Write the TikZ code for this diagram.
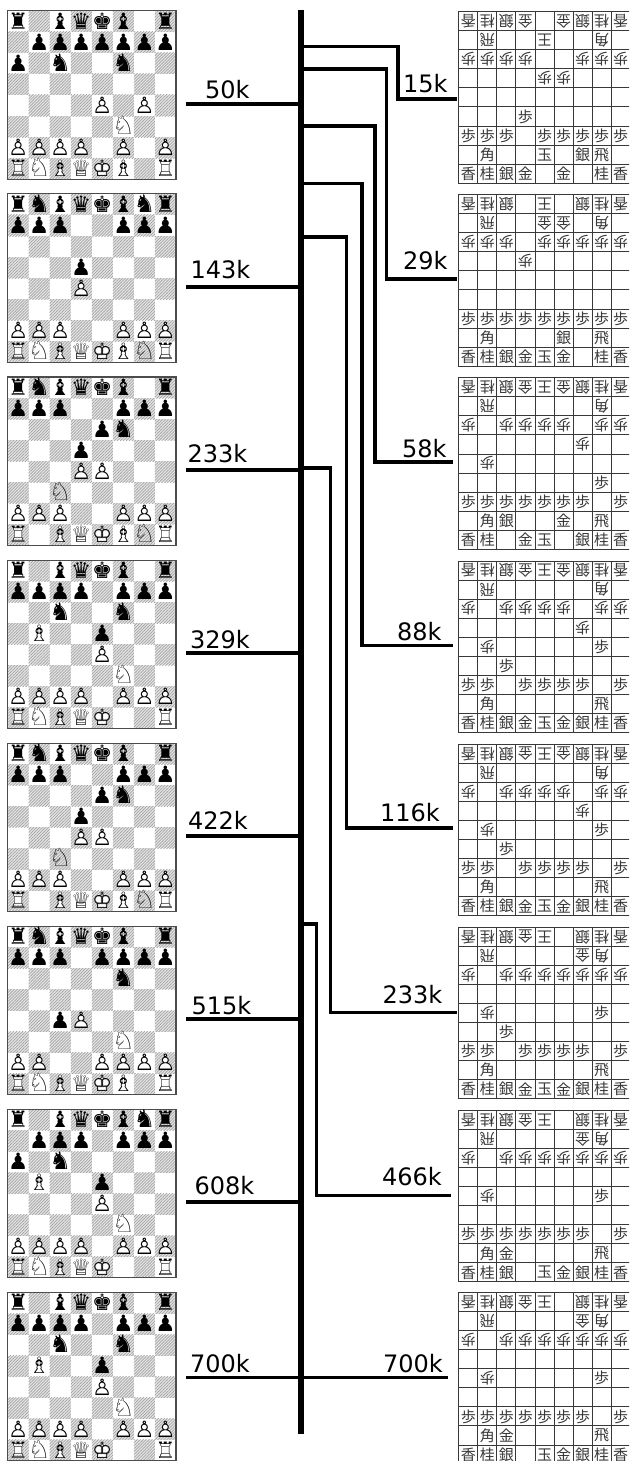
\documentclass[tikz,border=0pt]{standalone}
\usepackage{fontspec}
\usepackage{graphicx}
\setmainfont{DejaVu Sans}
\newfontfamily\djv{DejaVu Sans}
\newfontfamily\cjkf{Noto Sans CJK JP}
\usetikzlibrary{patterns.meta}
\tikzset{
  bar/.style={line width=5.6pt,black},
  wire/.style={line width=3.4pt,black,miter limit=10},
  lbl/.style={anchor=base west,inner sep=0pt,font=\fontsize{24}{24}\selectfont,text=black},
  frame/.style={draw=black!70,line width=1.1pt},
  darksq/.style={fill=black!10,postaction={pattern={Lines[angle=45,distance=2.1pt,line width=0.7pt]},pattern color=black!36}},
  chesspc/.style={anchor=base,inner sep=0pt,font=\djv\fontsize{22.5}{22.5}\selectfont},
  sgrid/.style={draw=black!78,line width=0.95pt,line cap=rect},
  sente/.style={inner sep=0pt,font=\cjkf\fontsize{15}{15}\selectfont,text=black!78},
  gote/.style={sente,rotate=180},
}
\def\cpscale#1#2{\scalebox{#1}{#2}}
\def\cpr{♜}\def\cpn{\cpscale{1.08}{♞}}\def\cpb{♝}\def\cpq{♛}\def\cpk{♚}\def\cpp{♟}
\def\wfill#1#2{\makebox[0pt][l]{\textcolor{white}{#1}}#2}
\def\cpR{\wfill{♜}{♖}}\def\cpN{\cpscale{1.12}{♘}}\def\cpB{\wfill{♝}{♗}}
\def\cpQ{\wfill{♛}{♕}}\def\cpK{\wfill{♚}{♔}}\def\cpP{\wfill{♟}{♙}}
\def\sgl{香}\def\sgn{桂}\def\sgs{銀}\def\sgg{金}\def\sgk{王}\def\sgr{飛}\def\sgb{角}\def\sgp{歩}
\def\sgL{香}\def\sgN{桂}\def\sgS{銀}\def\sgG{金}\def\sgK{玉}\def\sgR{飛}\def\sgB{角}\def\sgP{歩}
\newcount\cxx \newcount\cyy
% chess
\def\cstep{21.05}
\def\chessput#1{\if#1.\else
  \node[chesspc] (c\bid-\the\cyy-\the\cxx) at ({\bx+(\the\cxx+.5)*\cstep},{\by+(\the\cyy+.5)*\cstep+7.8}) {\csname cp#1\endcsname};\fi
  \global\advance\cxx by 1
  \ifnum\cxx=8 \global\cxx=0 \global\advance\cyy by 1 \fi}
\def\chessloop#1{\ifx#1\relax\else\chessput{#1}\expandafter\chessloop\fi}
\def\chessboard#1#2{\def\bid{#1}\def\bx{7.6}\def\by{#2}%
  \foreach \rr in {0,...,7}{\foreach \cc in {0,...,7}{%
    \pgfmathtruncatemacro\odd{mod(\rr+\cc,2)}%
    \ifnum\odd=1 \path[darksq] ({\bx+\cc*\cstep},{\by+\rr*\cstep}) rectangle ++(\cstep,\cstep);\fi}}%
  \draw[frame] (\bx,\by) rectangle ++({8*\cstep},{8*\cstep});%
  \global\cxx=0 \global\cyy=0 \chessloop}
% shogi
\def\sstep{19.05}
\def\shogiput#1{\if#1.\else
  \ifnum`#1>96 \def\sst{gote}\else\def\sst{sente}\fi
  \node[\sst] (s\bid-\the\cyy-\the\cxx) at ({\bx+(\the\cxx+.5)*\sstep},{\by+(\the\cyy+.5)*\sstep}) {\csname sg#1\endcsname};\fi
  \global\advance\cxx by 1
  \ifnum\cxx=9 \global\cxx=0 \global\advance\cyy by 1 \fi}
\def\shogiloop#1{\ifx#1\relax\else\shogiput{#1}\expandafter\shogiloop\fi}
\def\shogiboard#1#2{\def\bid{#1}\def\bx{458.8}\def\by{#2}%
  \foreach \rr in {0,...,9}{\draw[sgrid] (\bx,{\by+\rr*\sstep}) -- ++({9*\sstep},0);}%
  \foreach \cc in {0,...,9}{\draw[sgrid] ({\bx+\cc*\sstep},\by) -- ++(0,{9*\sstep});}%
  \global\cxx=0 \global\cyy=0 \shogiloop}
\begin{document}
\begin{tikzpicture}[x=1pt,y=-1pt]
\clip (0,0) rectangle (629,1461);
\fill[white] (0,0) rectangle (629,1461);
% chess boards
\chessboard{a}{10.8} r.bqkb.r .ppppppp p.n..n.. ........ ....P.P. .....N.. PPPP.P.P RNBQKB.R \relax
\chessboard{b}{193.9} rnbqkbnr ppp..ppp ........ ...p.... ...P.... ........ PPP..PPP RNBQKBNR \relax
\chessboard{c}{377} rnbqkb.r ppp..ppp ....pn.. ...p.... ...PP... ..N..... PPP..PPP R.BQKBNR \relax
\chessboard{d}{560.1} r.bqkb.r pppp.ppp ..n..n.. .B..p... ....P... .....N.. PPPP.PPP RNBQK..R \relax
\chessboard{e}{743.2} rnbqkb.r ppp..ppp ....pn.. ...p.... ...PP... ..N..... PPP..PPP R.BQKBNR \relax
\chessboard{f}{926.3} rnbqkb.r ppp.pppp .....n.. ........ ..pP.... .....N.. PP..PPPP RNBQKB.R \relax
\chessboard{g}{1109.4} r.bqkbnr .ppp.ppp p.n..... .B..p... ....P... .....N.. PPPP.PPP RNBQK..R \relax
\chessboard{h}{1292.5} r.bqkb.r pppp.ppp ..n..n.. .B..p... ....P... .....N.. PPPP.PPP RNBQK..R \relax
% shogi boards
\shogiboard{a}{11.7} lnsg.gsnl .r..k..b. pppp..ppp ....pp... ......... ...P..... PPP.PPPPP .B..K.SR. LNSG.G.NL \relax
\shogiboard{b}{194.7} lns.k.snl .r..gg.b. ppp.ppppp ...p..... ......... ......... PPPPPPPPP .B...S.R. LNSGKG.NL \relax
\shogiboard{c}{377.8} lnsgkgsnl .r.....b. p.pppp.pp ......p.. .p....... .......P. PPPPPPP.P .BS..G.R. LN.GK.SNL \relax
\shogiboard{d}{561} lnsgkgsnl .r.....b. p.pppp.pp ......p.. .p.....P. ..P...... PP.PPPP.P .B.....R. LNSGKGSNL \relax
\shogiboard{e}{744.2} lnsgkgsnl .r.....b. p.pppp.pp ......p.. .p.....P. ..P...... PP.PPPP.P .B.....R. LNSGKGSNL \relax
\shogiboard{f}{927.3} lnsgk.snl .r....gb. p.ppppppp ......... .p.....P. ..P...... PP.PPPP.P .B.....R. LNSGKGSNL \relax
\shogiboard{g}{1110.5} lnsgk.snl .r....gb. p.ppppppp ......... .p.....P. ......... PPPPPPP.P .BG....R. LNS.KGSNL \relax
\shogiboard{h}{1292.6} lnsgk.snl .r....gb. p.ppppppp ......... .p.....P. ......... PPPPPPP.P .BG....R. LNS.KGSNL \relax
% central axis
\coordinate (bartop) at (301,10);
\coordinate (barbot) at (301,1434);
% left ticks
\foreach \nm/\yy in {a/104,b/287,c/470,d/653,e/836,f/1019,g/1202,h/1377.5}{
  \coordinate (lt\nm) at (186,\yy);
  \coordinate (lb\nm) at (301,\yy);
  \draw[wire] (lt\nm) -- (lb\nm);
}
% right branches
\foreach \nm/\by/\kx/\ry/\ex in {a/46.7/398/99/456.7,b/69/386.7/279/456.7,c/126/375/462/452.7,d/183.7/362/645.5/452.7,e/237/346.7/828/452.7,f/468/330.7/1012.5/456.7,g/924/316.7/1195.5/450.7}{
  \coordinate (rb\nm) at (301,\by);
  \coordinate (rk\nm) at (\kx,\ry);
  \coordinate (re\nm) at (\ex,\ry);
  \draw[wire] (rb\nm) -| (rk\nm) -- (re\nm);
}
\coordinate (rbh) at (301,1377.5);
\coordinate (reh) at (448,1377.5);
\draw[wire] (rbh) -- (reh);
\draw[bar] (bartop) -- (barbot);
% labels
\node[lbl] (n50) at (205,98.3) {50k};
\node[lbl] (n143) at (190.5,278) {143k};
\node[lbl] (n233) at (187.5,462) {233k};
\node[lbl] (n329) at (190,648) {329k};
\node[lbl] (n422) at (188,829) {422k};
\node[lbl] (n515) at (191.5,1014) {515k};
\node[lbl] (n608) at (194.5,1194) {608k};
\node[lbl] (n700) at (190,1372) {700k};
\node[lbl] (m15) at (403,93) {15k};
\node[lbl] (m29) at (403,269.3) {29k};
\node[lbl] (m58) at (402,457) {58k};
\node[lbl] (m88) at (397,640) {88k};
\node[lbl] (m116) at (380,821) {116k};
\node[lbl] (m233) at (382.5,1003.3) {233k};
\node[lbl] (m466) at (382,1185.7) {466k};
\node[lbl] (m700) at (383,1372) {700k};
\end{tikzpicture}
\end{document}
